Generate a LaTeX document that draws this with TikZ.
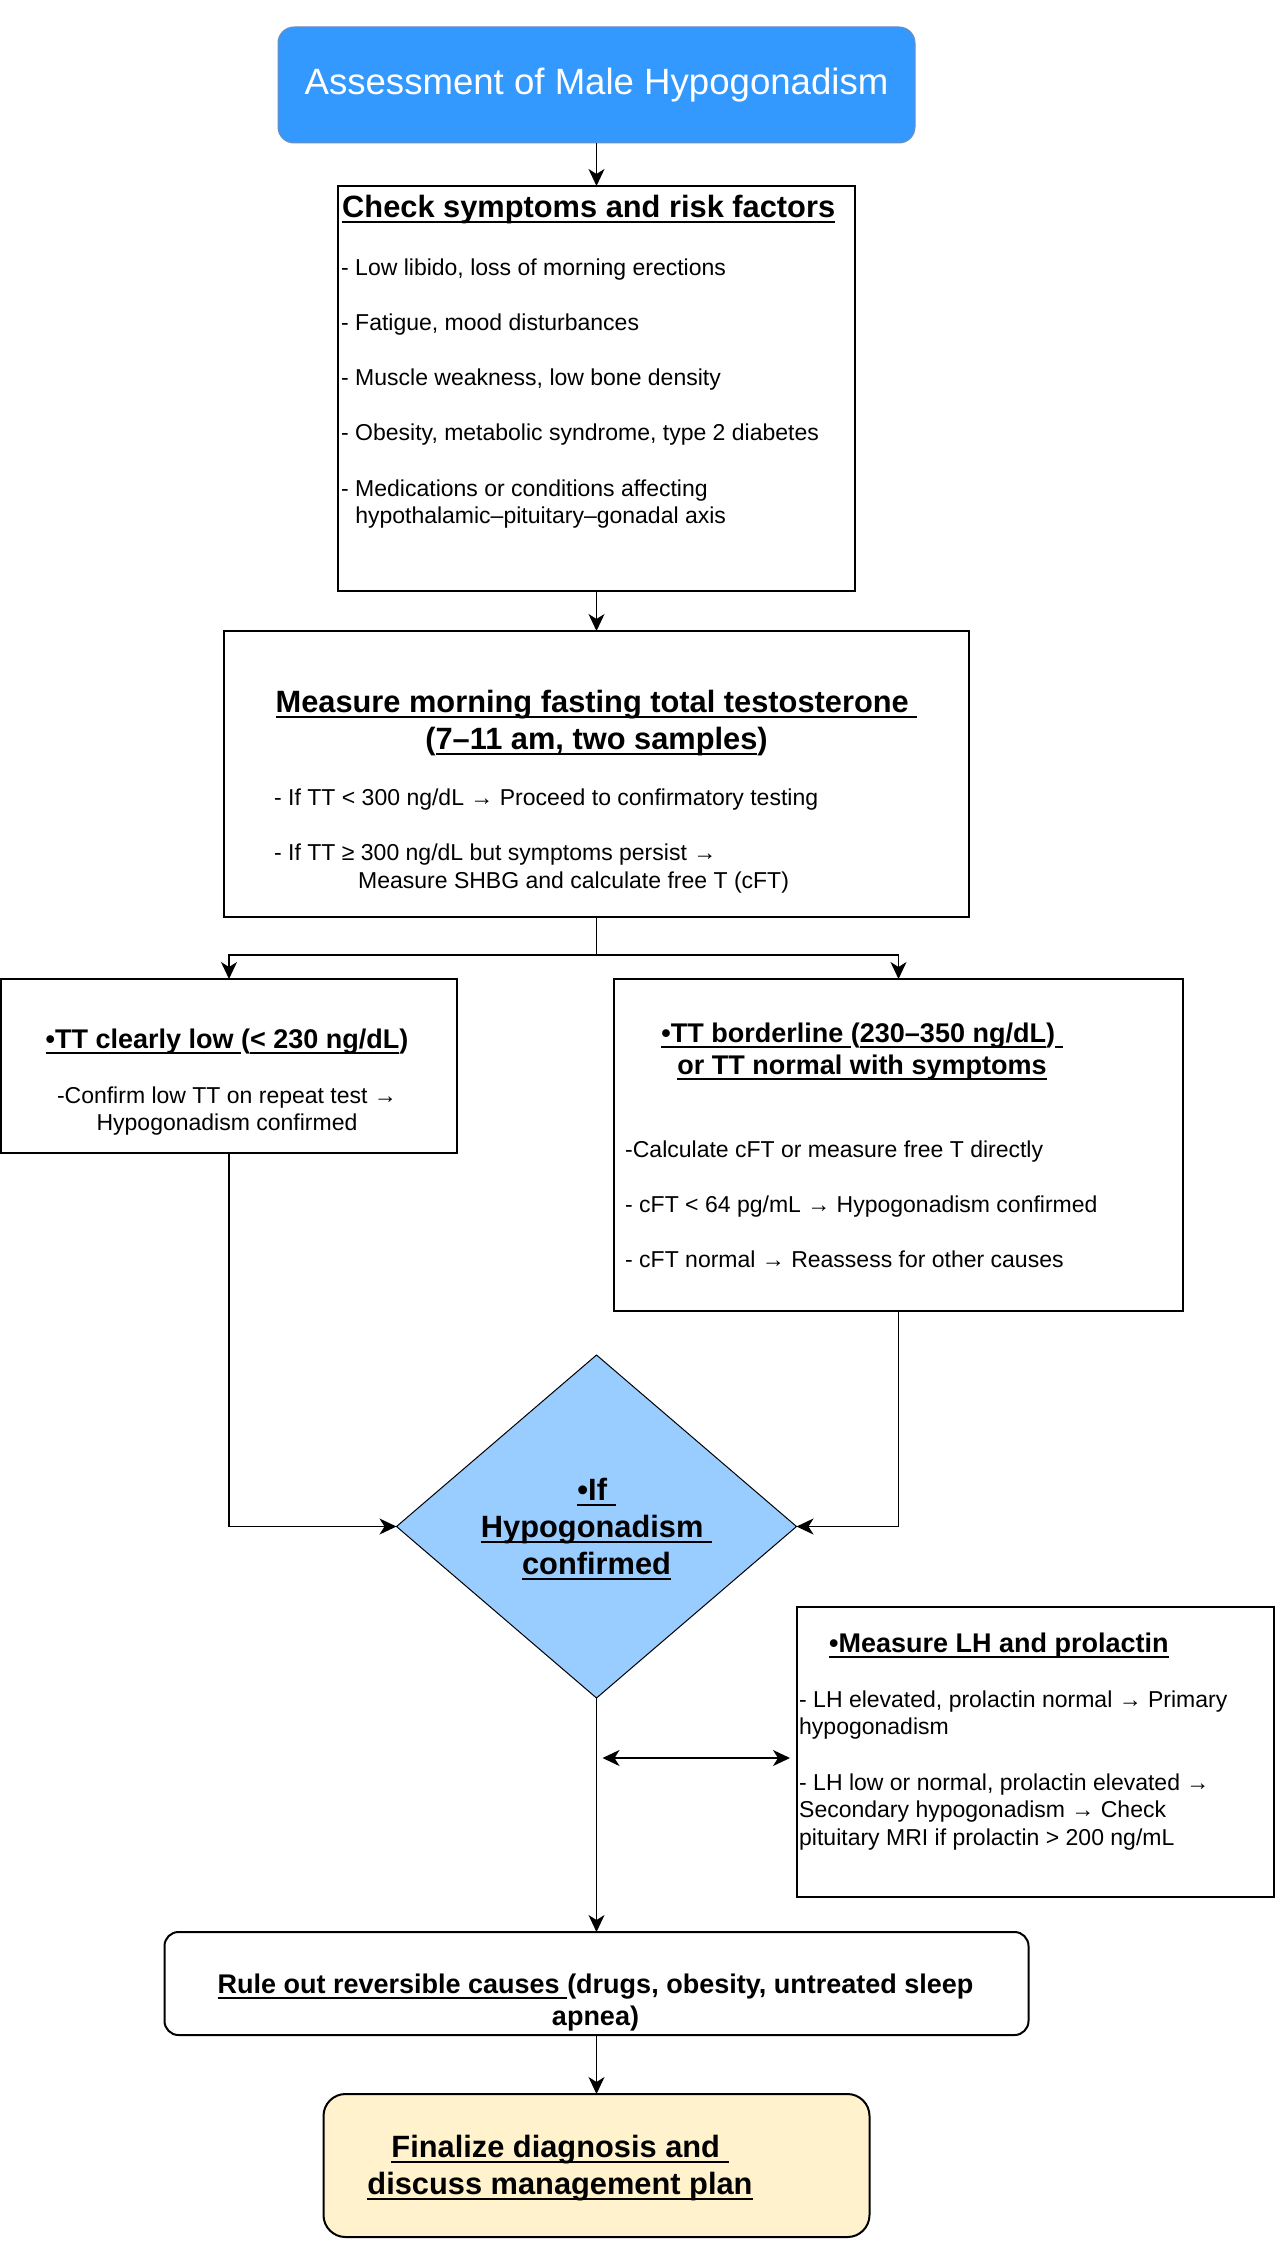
\documentclass[tikz,border=0pt]{standalone}
\usepackage{fontspec}
\setmainfont{Liberation Sans}
\usetikzlibrary{shapes.geometric, arrows.meta}
\newcommand{\undl}[1]{\setbox0\hbox{#1}\rlap{\rule[-5.5pt]{\wd0}{2pt}}\box0}
\definecolor{titleblue}{HTML}{3399FF}
\definecolor{titleedge}{HTML}{6C8EBF}
\definecolor{decideblue}{HTML}{99CCFF}
\definecolor{finalyellow}{HTML}{FFF2CC}

\begin{document}
\begin{tikzpicture}[x=1pt, y=-1pt,
		>={Stealth[length=17pt, width=16pt, inset=5pt]},
		box/.style={draw, line width=2pt, inner sep=0pt, outer sep=0pt},
		body/.style={inner sep=0pt, font=\fontsize{23}{27.6}\selectfont, align=left},
		bighead/.style={inner sep=0pt, font=\fontsize{30.8}{37}\selectfont\bfseries, align=center},
		head/.style={inner sep=0pt, font=\fontsize{27}{32.4}\selectfont\bfseries, align=center},
		arrow/.style={line width=1.5pt, ->}]
		\useasboundingbox (0,0) rectangle (1283,2250);
		\node[draw=titleedge, line width=1pt, fill=titleblue, rounded corners=16pt, minimum width=637pt, minimum height=116pt, inner sep=0pt, text=white, font=\fontsize{36.6}{44}\selectfont] (title) at (596.5,85) {Assessment of Male Hypogonadism};
		\node[box, minimum width=517pt, minimum height=405pt] (checkbox) at (596.5,388.5) {};
		\node[bighead, align=left, anchor=north west] at (342,191.1) {\strut\undl{Check symptoms and risk factors}};
		\node[body, anchor=north west] at (341,255.7) {\strut- Low libido, loss of morning erections\\[27.6pt]
			- Fatigue, mood disturbances\\[27.6pt]
			- Muscle weakness, low bone density\\[27.6pt]
			- Obesity, metabolic syndrome, type 2 diabetes\\[27.6pt]
			- Medications or conditions affecting\\
			\hphantom{- }hypothalamic–pituitary–gonadal axis};
		\node[box, minimum width=745pt, minimum height=286pt] (measure) at (596.5,774) {};
		\node[bighead, anchor=north] at (596.5,686.1) {\strut\undl{Measure morning fasting total testosterone }\\(\undl{7–11 am, two samples})};
		\node[body, anchor=north west] at (274,785.7) {\strut- If TT < 300 ng/dL → Proceed to confirmatory testing\\[27.6pt]
			- If TT ≥ 300 ng/dL but symptoms persist →\\
			\hspace*{84pt}Measure SHBG and calculate free T (cFT)};
		\node[box, minimum width=456pt, minimum height=174pt] (lowbox) at (229,1066) {};
		\node[head, anchor=north] at (227,1025.3) {\strut\undl{•TT clearly low }(\undl{< 230 ng/dL})};
		\node[body, align=center, anchor=north] at (227,1083.7) {\strut-Confirm low TT on repeat test →\\Hypogonadism confirmed};
		\node[box, minimum width=569pt, minimum height=332pt] (borderbox) at (898.5,1145) {};
		\node[head, anchor=north] at (862,1019.3) {\strut\undl{•TT borderline }(\undl{230–350 ng/dL})\undl{ }\\\undl{or TT normal with symptoms}};
		\node[body, anchor=north west] at (625,1137.7) {\strut-Calculate cFT or measure free T directly\\[27.6pt]
			- cFT < 64 pg/mL → Hypogonadism confirmed\\[27.6pt]
			- cFT normal → Reassess for other causes};
		\node[diamond, draw, line width=1pt, fill=decideblue, minimum width=400pt, minimum height=343pt, inner sep=0pt, outer sep=0pt] (decide) at (596.5,1526.5) {};
		\node[bighead, anchor=north] at (596.5,1474.1) {\strut\undl{•If }\\\undl{Hypogonadism }\\\undl{confirmed}};
		\node[box, line width=1.5pt, minimum width=477pt, minimum height=290pt] (lhbox) at (1035.5,1752) {};
		\node[head, align=left, anchor=north west] at (829,1629.3) {\strut\undl{•Measure LH and prolactin}};
		\node[body, anchor=north west] at (799,1687.7) {\strut- LH elevated, prolactin normal → Primary\\
			hypogonadism\\[27.6pt]
			- LH low or normal, prolactin elevated →\\
			Secondary hypogonadism → Check\\
			pituitary MRI if prolactin > 200 ng/mL};
		\node[box, rounded corners=14pt, minimum width=864pt, minimum height=103pt] (ruleout) at (596.5,1983.5) {};
		\node[head, anchor=north] at (595.5,1970.3) {\strut\undl{Rule out reversible causes }(drugs, obesity, untreated sleep\\apnea)};
		\node[box, rounded corners=22pt, fill=finalyellow, minimum width=546pt, minimum height=143pt] (final) at (596.5,2165.5) {};
		\node[bighead, anchor=north] at (560,2131.1) {\strut\undl{Finalize diagnosis and }\\\undl{discuss management plan}};
		\coordinate (split) at (596.5,955);
		\coordinate (lhjoin) at (596.5,1758);
		\draw[arrow] (title) -- (checkbox);
		\draw[arrow] (checkbox) -- (measure);
		\draw[line width=1.5pt] (measure.south) -- (split);
		\draw[arrow] (split) -| (lowbox.north);
		\draw[arrow] (split) -| (borderbox.north);
		\draw[arrow] (lowbox.south) |- (decide.west);
		\draw[arrow] (borderbox.south) |- (decide.east);
		\draw[arrow] (decide.south) -- (ruleout.north);
		\draw[line width=1.5pt, <->, shorten <=6pt, shorten >=7pt] (lhjoin) -- (lhjoin -| lhbox.west);
		\draw[arrow] (ruleout) -- (final);
\end{tikzpicture}
\end{document}
